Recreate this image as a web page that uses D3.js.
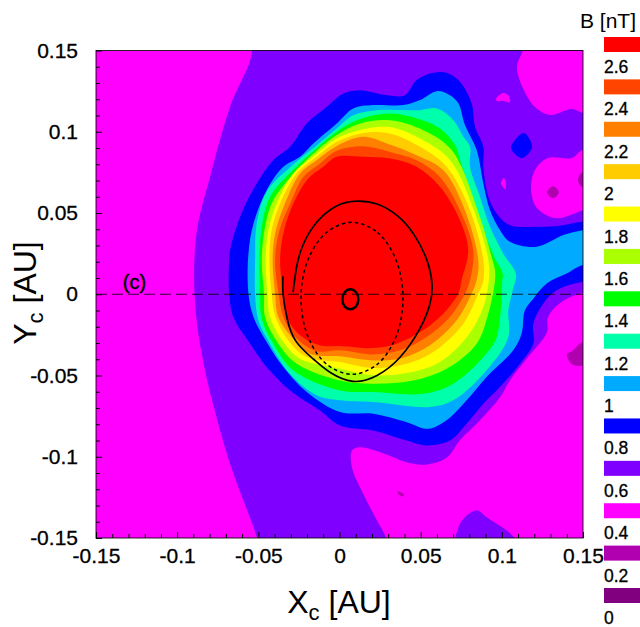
<!DOCTYPE html>
<html>
<head>
<meta charset="utf-8">
<script src="https://cdn.jsdelivr.net/npm/d3@7"></script>
<style>
  html, body { margin: 0; padding: 0; background: #fff; overflow: hidden; }
  svg { display: block; font-family: "Liberation Sans", Arial, sans-serif; }
  .ticklabel text, .legend-label { stroke: #000; stroke-width: 0.3px; fill: #000; }
</style>
</head>
<body>
<div id="chart"></div>
<script>
// ************ data *************************************
// contour outlines are [x, y] in thousandths of an AU

const xTickValues = [-0.15, -0.1, -0.05, 0, 0.05, 0.1, 0.15]
const xTickLabels = ["-0.15", "-0.1", "-0.05", "0", "0.05", "0.1", "0.15"]
const yTickValues = [-0.15, -0.1, -0.05, 0, 0.05, 0.1, 0.15]
const yTickLabels = ["-0.15", "-0.1", "-0.05", "0", "0.05", "0.1", "0.15"]
const minorTicks = [-0.14, -0.13, -0.12, -0.11, -0.09, -0.08, -0.07, -0.06, -0.04, -0.03, -0.02, -0.01,
  0.01, 0.02, 0.03, 0.04, 0.06, 0.07, 0.08, 0.09, 0.11, 0.12, 0.13, 0.14]

const legendLevels = [2.6, 2.4, 2.2, 2, 1.8, 1.6, 1.4, 1.2, 1, 0.8, 0.6, 0.4, 0.2, 0]
const legendColors = ["#ff0000", "#ff4400", "#ff8000", "#ffcc00", "#ffff00", "#aaff00", "#00ff00",
  "#00ffaa", "#00aaff", "#0000ff", "#8000ff", "#ff00ff", "#b000b0", "#800080"]

const purpleOuter = [[-53.9,150.3],[-67.5,115.2],[-79.8,72.1],[-87.8,39.4],[-89.6,10.5],[-87.8,-17.9],[-83.5,-43.7],
  [-78.5,-65.3],[-67.5,-104.1],[-50.8,-149.7],[-45,-170],[170,-170],[170,170],[-60,170]]

const magentaTopRight = [[113,150.3],[109.3,139.8],[113,126.9],[120.4,115.2],[129.7,110.3],[143.2,114],[150,111.5],
  [170,110],[170,170],[118,170]]
const magentaMidRight = [[150,88.7],[143.2,83.8],[128.4,83.8],[120.4,76.4],[118,64.1],[121.7,53],[134,46.8],[150,51.7],
  [165,55],[165,85]]
const magentaLowRight = [[149.4,0.6],[135.8,-5.5],[128.4,-14.2],[127.8,-23.4],[115.5,-39.4],[105,-53],[98.9,-63.4],
  [86.5,-77.6],[74.2,-89.9],[66.2,-100.4],[53.9,-104.7],[41.6,-103.5],[26.8,-97.9],[12.6,-94.2],[7.7,-96.1],[7.7,-106.6],
  [14.5,-122.6],[23.1,-139.2],[28.6,-149.7],[33,-170],[170,-170],[170,0]]
const purpleBump = [[71.1,-150.3],[75.5,-139.2],[84.7,-133],[90.9,-137.4],[108.1,-150.3],[115,-170],[65,-170]]
const magentaSpotA = [[96.4,120.1],[100.7,123.8],[103.8,122.6],[105,118.3],[100.7,119],[97,119]]
const magentaSpotB = [[101.3,71.5],[102.6,67.8],[102,64.7],[100.7,66],[99.5,68.4]]
const blueSpot = [[113.7,99.2],[118.6,90.6],[112.4,83.8],[105.7,89.9],[108.1,94.9]]
const darkSpotC = [[131.5,66.5],[135.2,62.8],[131.5,59.1],[127.8,62.8]]
const darkSpotD = [[150,75.2],[146.9,70.3],[150,65.9],[160,70]]
const darkSpotE = [[150,-29.6],[143.2,-35.1],[140.1,-37],[143.2,-43.1],[150,-43.7],[160,-36]]
const darkSpotF = [[36,-121.4],[39.7,-123.2],[39.1,-124.4],[36,-122.6]]

const band08 = [[-68,20.9],[-67.4,27.1],[-61.3,47.6],[-51,68.1],[-40.8,82.5],[-30.5,90.7],[-20.2,105.1],[-7.9,115.4],
  [2.4,123.6],[12.6,125.6],[29,122.5],[40.3,122.5],[47.5,131.8],[57.8,136.3],[66,136.3],[74.2,130.8],
  [81.4,117.5],[83.5,103.1],[88.6,90.8],[88.6,78.4],[91.7,60],[96.8,49.7],[105,42.5],[121.4,41.5],[137.9,42.5],[149.8,44.6],
  [165,44],[165,8],[149.1,7.6],[133.7,2.4],[125.5,-5.8],[119.4,-18.1],[119.4,-30.4],[111.2,-42.7],[98.8,-57.1],[88.6,-67.4],
  [78.3,-79.7],[68,-90],[53.7,-93],[41.4,-90],[20.8,-83.8],[0.3,-80.7],[-12,-71.5],[-30.5,-59.2],[-44.9,-44.8],[-55.1,-30.4],
  [-65.4,-14],[-68,0.4]]
const band10 = [[-56.1,25],[-53,43.5],[-44.9,64],[-34.6,78.4],[-24.3,84.6],[-16.1,92.8],[-1.7,105.1],[8.5,114.3],[20.8,116.4],
  [39.3,116.4],[49.6,119.5],[59.9,125],[68,122.5],[73.2,117.5],[77.3,104.1],[84.5,88.7],[88.6,68.2],[92.7,51.8],[98.9,39.4],
  [105,32.3],[121.4,29.2],[137.9,36.4],[149.8,39.4],[165,41],[165,16],[149.8,17.9],[139.9,12.7],[127.6,6.6],[119.4,-2.7],
  [114.2,-9.9],[112.2,-24.2],[107,-34.5],[90.6,-50.9],[78.3,-65.3],[66,-77.6],[54.7,-82.8],[41.4,-78.7],[20.8,-73.5],[0.3,-72.5],
  [-20.2,-60.2],[-34.6,-44.8],[-44.9,-29.4],[-53,-14],[-56.1,0.4]]
const band12 = [[-52,20.9],[-51,43.5],[-44.9,63],[-30.1,78.4],[-14.1,91.5],[-1.7,102],[8.5,110.2],[22.9,113.3],[39.3,113.3],
  [49.6,113.3],[59.9,114.3],[70.1,107.2],[76.3,96.9],[80.4,90.8],[80.4,78.4],[86.5,60],[92.7,41.5],[100.9,25],[108.7,12.3],
  [106.7,2.5],[104,-9.9],[104,-26.3],[90.6,-46.8],[70.1,-65.3],[55.7,-69.4],[20.8,-66.3],[0.3,-65.3],[-14,-62.2],[-30.5,-48.9],
  [-42.8,-30.4],[-50,-16],[-52,0.4]]
const band14 = [[-49.4,20.9],[-47.9,41.4],[-42.8,59.9],[-28.8,76.3],[-14.1,89.9],[-1.7,100],[10.6,107.1],[31.1,111.3],[49.6,107.6],
  [61.9,102],[71.1,91.8],[75.2,79.5],[82.4,57.9],[88.6,39.4],[95.8,22],[100.5,12.7],[100.3,8.6],[96.8,-26.3],[88.6,-38.6],
  [70.1,-55],[51.6,-61.2],[20.8,-60.2],[0.3,-59.2],[-28.4,-46.9],[-40.8,-30.4],[-47.9,-15],[-49,0.4]]
const band16 = [[-47.9,20.9],[-45.9,41.4],[-40.8,57.9],[-26.4,76.3],[-14.1,88.3],[-1.7,98],[12.6,105.1],[31.1,107.1],[51.6,101],
  [69.1,88.7],[86.5,47.6],[93.7,23],[95.8,14.8],[95.8,8.6],[91.7,-11.9],[84.5,-30.4],[66,-45.8],[45.5,-53],[20.8,-55],[0.3,-53],
  [-26.4,-42.7],[-37.7,-30.4],[-45.9,-14],[-46.5,0.4]]
const band18 = [[-45.5,20.9],[-43.8,39.4],[-38.7,55.8],[-28.4,74.3],[-14.1,86.4],[-1.7,95.9],[16.7,102],[31.1,103],[49.6,95.9],
  [68.1,82.5],[83.5,49.7],[91.7,20.9],[92,8.6],[88.6,-7.8],[79.3,-25.3],[61.9,-41.7],[41.4,-48.5],[20.8,-49.9],[0.3,-45.8],
  [-24.3,-39.7],[-34.6,-29.4],[-42.8,-14],[-44.4,0.4]]
const band20 = [[-43.2,20.9],[-41.8,39.4],[-36.6,55.8],[-26.4,74.3],[-14.1,84.6],[-1.7,93.8],[14.7,99.3],[31.1,98.9],[49.6,90.7],
  [66,78.4],[80.4,51.7],[88.6,20.9],[88.6,8.6],[85.5,0.4],[76.3,-18.1],[57.8,-35.5],[41.4,-42.7],[20.8,-45.4],[0.3,-41.7],
  [-20.2,-38.6],[-31.5,-28.4],[-39.7,-13],[-41.8,0.4]]
const band22 = [[-41.2,20.9],[-39.7,37.3],[-33.6,55.8],[-24.3,74.3],[-14.1,82.5],[-1.7,91.3],[14.7,96.9],[29.1,92.8],[47.5,85.6],
  [64,76.3],[77.3,51.7],[85.5,20.9],[84.5,8.6],[81.4,0.4],[72.2,-16],[55.7,-31.4],[39.3,-39],[20.8,-40.7],[0.3,-38.2],
  [-18.2,-36.6],[-29.5,-26.3],[-37.7,-14],[-39.7,0.4]]
const band24 = [[-39.7,20.9],[-37,39.4],[-29.5,57.9],[-22.3,72.2],[-12,80.5],[-1.7,88.3],[14.7,91.1],[31.1,87.6],[47.5,82.5],
  [61.9,72.2],[74.2,51.7],[82.4,27.1],[80.4,8.6],[77.3,0.4],[68,-14],[53.7,-26.3],[37.3,-34.5],[20.8,-37],[0.3,-34.5],
  [-14,-35],[-26.4,-27.3],[-34.6,-14],[-37.5,0.4]]
const band26 = [[-36.6,20.9],[-34.6,37.3],[-28.4,55.8],[-19.2,71.2],[-10,78.4],[-1.7,84.6],[14.7,84.6],[31.1,83.5],[47.5,78.4],
  [61.9,66.1],[74.2,45.6],[79.3,27.1],[75.2,8.6],[73.2,0.4],[64,-11.9],[51.6,-22.2],[35.2,-30.4],[20.8,-33.1],[0.3,-31.8],
  [-12,-31.5],[-24.3,-25.3],[-32.5,-14],[-34.6,0.4]]

const orbitSolid = [[-34.8,11.1],[-34.8,0.6],[-32.3,-14.8],[-26.8,-29],[-16,-40],[-5.9,-48],[8.3,-53.6],[23.1,-50],[37.3,-38.8],
  [49.6,-21],[55.7,-6],[57,6],[53.9,20.9],[45.7,37],[35.4,48.5],[23.1,55.5],[11,57.3],[-1.5,54.5],[-13.9,44.5],
  [-22,31.4],[-26.2,18],[-28.6,1.2]]
const orbitDashed = [[7.7,44.3],[23.4,38],[34.9,20.9],[39.1,-2.5],[34.9,-25.9],[23.4,-43],[7.7,-49.3],[-8,-43],
  [-19.5,-25.9],[-23.7,-2.5],[-19.5,20.9],[-8,38]]
const smallLoop = [[6.7,3.1],[10.2,1.25],[11.6,-3.1],[10.2,-7.45],[6.7,-9.2],[3.2,-7.45],[1.8,-3.1],[3.2,1.25]]

// ************ layers, back to front ***************
const layers = [
  [purpleOuter, "#8000ff"],
  [magentaTopRight, "#ff00ff"],
  [magentaMidRight, "#ff00ff"],
  [magentaLowRight, "#ff00ff"],
  [purpleBump, "#8000ff"],
  [magentaSpotA, "#ff00ff"],
  [magentaSpotB, "#ff00ff"],
  [blueSpot, "#0000ff"],
  [darkSpotC, "#b000b0"],
  [darkSpotD, "#b000b0"],
  [darkSpotE, "#b000b0"],
  [darkSpotF, "#b000b0"],
  [band08, "#0000ff"],
  [band10, "#00aaff"],
  [band12, "#00ffaa"],
  [band14, "#00ff00"],
  [band16, "#aaff00"],
  [band18, "#ffff00"],
  [band20, "#ffcc00"],
  [band22, "#ff8000"],
  [band24, "#ff4400"],
  [band26, "#ff0000"]
]

const margin = { top: 50.5, left: 96 }
const width = 487
const height = 487.5

const x = d3.scaleLinear().domain([-0.15, 0.15]).range([0, width])
const y = d3.scaleLinear().domain([-0.15, 0.15]).range([height, 0])

const svg = d3.select("#chart")
  .append("svg")
  .attr("width", 640)
  .attr("height", 627)

const plot = svg.append("g")
  .attr("transform", "translate(" + margin.left + ", " + margin.top + ")")

plot.append("clipPath")
  .attr("id", "frame")
  .append("rect")
  .attr("width", width)
  .attr("height", height)

const field = plot.append("g").attr("clip-path", "url(#frame)")

field.append("rect")
  .attr("width", width)
  .attr("height", height)
  .attr("fill", "#ff00ff")

const closedPath = d3.line()
  .x(d => x(d[0] / 1000))
  .y(d => y(d[1] / 1000))
  .curve(d3.curveCatmullRomClosed.alpha(0.5))

const openPath = d3.line()
  .x(d => x(d[0] / 1000))
  .y(d => y(d[1] / 1000))
  .curve(d3.curveNatural)

field.selectAll(".band")
  .data(layers)
  .enter()
  .append("path")
  .attr("class", "band")
  .attr("d", d => closedPath(d[0]))
  .attr("fill", d => d[1])

// dashed line along y = 0
field.append("line")
  .attr("x1", x(-0.15))
  .attr("x2", x(0.15))
  .attr("y1", y(0))
  .attr("y2", y(0))
  .attr("stroke", "#000")
  .attr("stroke-opacity", 0.8)
  .attr("stroke-width", 1.2)
  .attr("stroke-dasharray", "11,5")

// orbit curves
field.append("path")
  .attr("d", openPath(orbitSolid))
  .attr("fill", "none")
  .attr("stroke", "#000")
  .attr("stroke-width", 1.7)

field.append("path")
  .attr("d", closedPath(orbitDashed))
  .attr("fill", "none")
  .attr("stroke", "#000")
  .attr("stroke-width", 1.5)
  .attr("stroke-dasharray", "3.5,3")

field.append("path")
  .attr("d", closedPath(smallLoop))
  .attr("fill", "none")
  .attr("stroke", "#000")
  .attr("stroke-width", 2.4)

// frame
plot.append("rect")
  .attr("width", width)
  .attr("height", height)
  .attr("fill", "none")
  .attr("stroke", "#000")
  .attr("stroke-opacity", 0.85)
  .attr("stroke-width", 1)

// axes
plot.append("g")
  .attr("transform", "translate(0, " + height + ")")
  .call(d3.axisBottom(x).tickValues(minorTicks).tickSize(-4).tickFormat(""))
  .call(g => g.select(".domain").remove())

plot.append("g")
  .call(d3.axisLeft(y).tickValues(minorTicks).tickSize(-4).tickFormat(""))
  .call(g => g.select(".domain").remove())

plot.append("g")
  .attr("class", "ticklabel")
  .attr("transform", "translate(0, " + height + ")")
  .call(d3.axisBottom(x).tickValues(xTickValues).tickSize(-6).tickPadding(10)
    .tickFormat((d, i) => xTickLabels[i]))
  .call(g => g.select(".domain").remove())
  .selectAll("text")
  .style("font-size", "21px")
  .style("font-family", "'Liberation Sans', Arial, sans-serif")

plot.append("g")
  .attr("class", "ticklabel")
  .call(d3.axisLeft(y).tickValues(yTickValues).tickSize(-6).tickPadding(18)
    .tickFormat((d, i) => yTickLabels[i]))
  .call(g => g.select(".domain").remove())
  .selectAll("text")
  .style("font-size", "21px")
  .style("font-family", "'Liberation Sans', Arial, sans-serif")

// panel tag
plot.append("text")
  .attr("x", x(-0.1335))
  .attr("y", y(0.0035))
  .style("font-size", "20px")
  .attr("stroke", "#000")
  .attr("stroke-width", 0.4)
  .text("(c)")

// axis titles
const xTitle = svg.append("text")
  .attr("x", 339)
  .attr("y", 613)
  .attr("text-anchor", "middle")
  .style("font-size", "32px")
xTitle.append("tspan").text("X")
xTitle.append("tspan").attr("dy", 7).style("font-size", "22px").text("c")
xTitle.append("tspan").attr("dy", -7).text(" [AU]")

const yTitle = svg.append("text")
  .attr("transform", "translate(36, 293) rotate(-90)")
  .attr("text-anchor", "middle")
  .style("font-size", "32px")
yTitle.append("tspan").text("Y")
yTitle.append("tspan").attr("dy", 7).style("font-size", "22px").text("c")
yTitle.append("tspan").attr("dy", -7).text(" [AU]")

// ************ legend ***************
const legendY = d3.scaleLinear().domain([2.6, 0]).range([73, 624])

svg.append("text")
  .attr("x", 580)
  .attr("y", 28)
  .style("font-size", "21px")
  .text("B [nT]")

svg.selectAll(".legend-box")
  .data(legendColors)
  .enter()
  .append("rect")
  .attr("class", "legend-box")
  .attr("x", 604)
  .attr("y", (d, i) => legendY(legendLevels[i]) - 36)
  .attr("width", 36)
  .attr("height", 15)
  .attr("fill", d => d)

svg.selectAll(".legend-label")
  .data(legendLevels)
  .enter()
  .append("text")
  .attr("class", "legend-label")
  .attr("x", 604)
  .attr("y", d => legendY(d))
  .style("font-size", "17.5px")
  .text(d => d)
</script>
</body>
</html>
